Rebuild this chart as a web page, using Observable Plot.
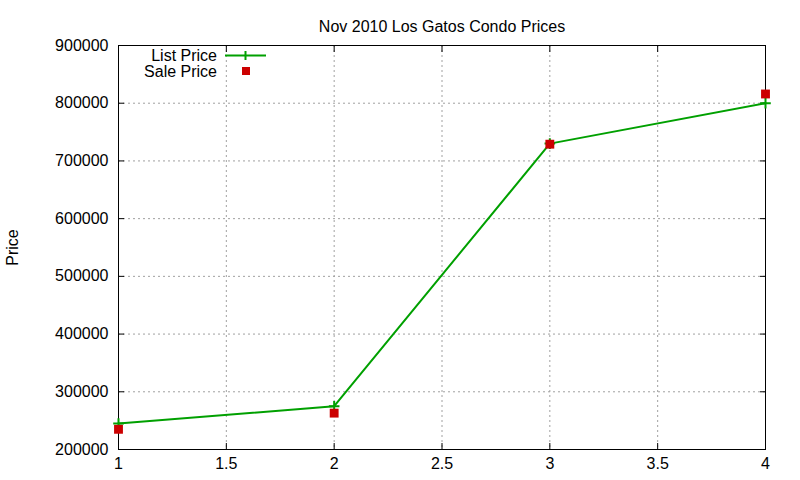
<!DOCTYPE html>
<html><head><meta charset="utf-8">
<script src="https://cdn.jsdelivr.net/npm/d3@7"></script>
<script src="https://cdn.jsdelivr.net/npm/@observablehq/plot@0.6"></script>
<style>
body{margin:0;background:#fff;}
#wrap{position:relative;width:800px;height:480px;font-family:"Liberation Sans",Arial,sans-serif;}
.leg{position:absolute;font-size:16px;color:#000;text-align:right;width:100px;}
</style>
</head><body>
<div id="wrap"></div>
<script>
const xs = [1, 2, 3, 4];
const listPrice = [245000, 275000, 730000, 800000];
const salePrice = [235000, 263000, 729000, 816000];
const xTicks = [1, 1.5, 2, 2.5, 3, 3.5, 4];
const yTicks = [200000, 300000, 400000, 500000, 600000, 700000, 800000, 900000];
const title = "Nov 2010 Los Gatos Condo Prices";

const listData = xs.map((x, i) => ({x, y: listPrice[i]}));
const saleData = xs.map((x, i) => ({x, y: salePrice[i]}));
const green = "#00a000", red = "#cc0000";
const grid = {stroke: "#a0a0a0", strokeOpacity: 1, strokeDasharray: "2,3"};

const chart = Plot.plot({
  width: 800, height: 480,
  marginLeft: 118, marginRight: 35, marginTop: 45, marginBottom: 31,
  style: {fontFamily: '"Liberation Sans", Arial, sans-serif', fontSize: "16px", color: "#000", background: "#fff"},
  x: {domain: [1, 4]},
  y: {domain: [200000, 900000]},
  marks: [
    Plot.gridX(xTicks.slice(1, -1), grid),
    Plot.gridY(yTicks.slice(1, -1), grid),
    Plot.axisX(xTicks, {tickSize: -6, tickPadding: 14, tickFormat: d => String(d), label: null, stroke: "#000"}),
    Plot.axisX(xTicks, {anchor: "top", tickSize: -6, tickFormat: () => "", label: null, stroke: "#000"}),
    Plot.axisY(yTicks, {tickSize: -6, tickPadding: 16, tickFormat: d => String(d), label: "Price", labelAnchor: "center", labelArrow: "none", labelOffset: 112, stroke: "#000"}),
    Plot.axisY(yTicks, {anchor: "right", tickSize: -6, tickFormat: () => "", label: null, stroke: "#000"}),
    Plot.frame({stroke: "#000"}),
    Plot.line(listData, {x: "x", y: "y", stroke: green, strokeWidth: 2}),
    Plot.dot(listData, {x: "x", y: "y", symbol: "plus", stroke: green, strokeWidth: 2, r: 3.5}),
    Plot.dot(saleData, {x: "x", y: "y", symbol: "square", fill: red, stroke: "none", r: 5}),
    Plot.text([title], {frameAnchor: "top", dy: -25, fontSize: 16, fill: "#000"})
  ]
});
const wrap = document.getElementById("wrap");
wrap.appendChild(chart);

// legend (gnuplot style, inside plot top-left)
const leg = document.createElement("div");
leg.innerHTML = `
<div class="leg" style="left:117px;top:47px;">List Price</div>
<div class="leg" style="left:117px;top:63px;">Sale Price</div>
<svg style="position:absolute;left:220px;top:46px;" width="60" height="32">
  <line x1="5" x2="46" y1="9.5" y2="9.5" stroke="${green}" stroke-width="2"/>
  <line x1="25.5" x2="25.5" y1="5" y2="14" stroke="${green}" stroke-width="2"/>
  <rect x="22" y="21" width="8" height="8" fill="${red}"/>
</svg>`;
wrap.appendChild(leg);
</script>
</body></html>
